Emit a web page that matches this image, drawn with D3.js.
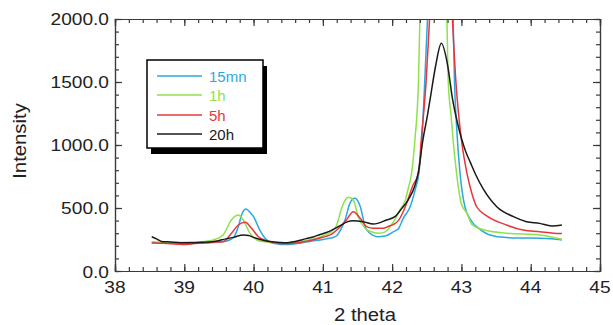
<!DOCTYPE html>
<html>
<head>
<meta charset="utf-8">
<script src="https://cdn.jsdelivr.net/npm/d3@7"></script>
<style>
  html, body { margin: 0; padding: 0; background: #fff; }
  svg { display: block; }
  text { font-family: "Liberation Sans", Arial, Helvetica, sans-serif; }
</style>
</head>
<body>
<svg id="chart" width="613" height="325"></svg>
<script>
// ---- data ----
const seriesNames = ["15mn", "1h", "5h", "20h"];
const seriesColors = ["#2ba8e0", "#8ee24c", "#e8363c", "#1a1a1a"];
const xTicks = [38, 39, 40, 41, 42, 43, 44, 45];
const yTicks = [0, 500, 1000, 1500, 2000];

const s15mn = [
  [38.53,225],[38.7,222],[38.9,220],[39.1,222],[39.3,228],[39.5,232],[39.6,236],[39.66,248],
  [39.71,265],[39.78,352],[39.83,450],[39.89,492],[39.95,465],[40.0,431],[40.09,325],[40.17,258],
  [40.25,225],[40.35,214],[40.45,210],[40.55,212],[40.65,220],[40.75,230],[40.85,238],[40.96,246],
  [41.05,255],[41.12,262],[41.2,280],[41.26,330],[41.32,405],[41.39,537],[41.46,577],[41.5,560],
  [41.54,511],[41.61,352],[41.68,299],[41.78,272],[41.9,278],[41.96,292],[42.02,312],[42.09,335],
  [42.16,418],[42.26,510],[42.33,640],[42.39,790],[42.43,1050],[42.47,1500],[42.51,2000],
  [42.56,2700],[42.7,3200],[42.84,2700],[42.88,2000],[42.90,1503],[42.93,1150],[42.98,775],
  [43.05,510],[43.12,418],[43.17,378],[43.22,352],[43.41,286],[43.65,265],[43.9,262],[44.13,260],
  [44.3,255],[44.45,246]
];
const s1h = [
  [38.53,232],[38.7,228],[38.9,226],[39.1,230],[39.3,235],[39.42,246],[39.56,286],[39.68,405],
  [39.78,444],[39.85,405],[39.95,299],[40.05,246],[40.15,232],[40.3,225],[40.45,222],[40.6,228],
  [40.75,240],[40.86,255],[40.96,270],[41.05,290],[41.12,310],[41.2,365],[41.27,497],[41.33,570],
  [41.37,585],[41.44,563],[41.51,431],[41.61,339],[41.7,312],[41.82,299],[41.9,310],[41.97,352],
  [42.05,420],[42.11,484],[42.19,560],[42.23,650],[42.28,775],[42.33,1050],[42.38,1503],[42.40,2000],
  [42.45,2700],[42.6,3500],[42.74,2700],[42.79,2000],[42.81,1503],[42.85,1238],[42.88,1040],
  [42.93,775],[43.0,530],[43.08,458],[43.15,370],[43.33,325],[43.65,300],[44.13,286],[44.3,270],
  [44.45,252]
];
const s5h = [
  [38.53,222],[38.7,220],[38.9,212],[39.0,210],[39.1,215],[39.3,222],[39.45,228],[39.56,233],
  [39.68,299],[39.78,365],[39.88,386],[39.97,339],[40.07,272],[40.19,240],[40.3,225],[40.45,218],
  [40.6,222],[40.75,235],[40.86,248],[40.96,262],[41.05,275],[41.12,290],[41.2,325],[41.34,405],
  [41.44,471],[41.54,418],[41.63,352],[41.73,339],[41.87,339],[41.95,355],[42.02,370],[42.09,400],
  [42.16,470],[42.21,540],[42.3,680],[42.38,775],[42.42,1040],[42.49,1503],[42.54,2000],[42.6,2600],
  [42.72,3000],[42.82,2600],[42.87,2000],[42.92,1503],[42.96,1238],[43.0,1040],[43.08,775],
  [43.15,617],[43.22,510],[43.36,440],[43.65,365],[43.89,325],[44.13,312],[44.33,300],[44.45,298]
];
const s20h = [
  [38.53,272],[38.6,255],[38.67,235],[38.8,230],[38.95,225],[39.1,224],[39.25,228],[39.4,232],
  [39.47,238],[39.6,255],[39.71,267],[39.85,286],[39.93,282],[40.0,267],[40.1,250],[40.19,238],
  [40.3,230],[40.45,225],[40.6,235],[40.75,255],[40.86,270],[40.96,290],[41.05,305],[41.15,330],
  [41.25,360],[41.35,390],[41.44,399],[41.58,391],[41.73,373],[41.92,405],[42.04,431],[42.14,497],
  [42.23,563],[42.33,680],[42.38,790],[42.44,1026],[42.51,1238],[42.55,1370],[42.63,1635],
  [42.71,1807],[42.80,1635],[42.87,1370],[42.95,1159],[43.0,1053],[43.06,950],[43.13,860],
  [43.21,760],[43.31,655],[43.51,510],[43.75,431],[43.94,391],[44.13,378],[44.3,357],[44.45,365]
];
const seriesData = [s15mn, s1h, s5h, s20h];

// ---- layout ----
const svg = d3.select("#chart");
const L = 115, R = 600, T = 19, B = 271;
const x = d3.scaleLinear().domain([38, 45]).range([L, R]);
const y = d3.scaleLinear().domain([0, 2000]).range([B, T]);
const SX = 1.16; // horizontal stretch of the original lettering
const axisColor = "#3a3a3a";

// clip
svg.append("defs").append("clipPath").attr("id", "plotclip")
  .append("rect").attr("x", L).attr("y", T).attr("width", R - L).attr("height", B - T);

// series lines
const line = d3.line().x(d => x(d[0])).y(d => y(d[1])).curve(d3.curveMonotoneX);
const plot = svg.append("g").attr("clip-path", "url(#plotclip)");
seriesData.forEach((s, i) => {
  plot.append("path").datum(s).attr("d", line)
    .attr("fill", "none").attr("stroke", seriesColors[i])
    .attr("stroke-width", 1.5).attr("stroke-linejoin", "round");
});

// axes (ticks inward on all sides)
const xMinor = d3.range(38, 45.001, 0.2);
const yMinor = d3.range(0, 2000.1, 100);
const gx = svg.append("g").attr("transform", `translate(0,${B})`)
  .call(d3.axisBottom(x).tickValues(xMinor).tickSize(-4).tickFormat(""));
const gx2 = svg.append("g").attr("transform", `translate(0,${B})`)
  .call(d3.axisBottom(x).tickValues(xTicks).tickSize(-7).tickFormat(""));
const gxt = svg.append("g").attr("transform", `translate(0,${T})`)
  .call(d3.axisTop(x).tickValues(xMinor).tickSize(-4).tickFormat(""));
const gxt2 = svg.append("g").attr("transform", `translate(0,${T})`)
  .call(d3.axisTop(x).tickValues(xTicks).tickSize(-7).tickFormat(""));
const gy = svg.append("g").attr("transform", `translate(${L},0)`)
  .call(d3.axisLeft(y).tickValues(yMinor).tickSize(-4).tickFormat(""));
const gy2 = svg.append("g").attr("transform", `translate(${L},0)`)
  .call(d3.axisLeft(y).tickValues(yTicks).tickSize(-7).tickFormat(""));
const gyr = svg.append("g").attr("transform", `translate(${R},0)`)
  .call(d3.axisRight(y).tickValues(yMinor).tickSize(-4).tickFormat(""));
const gyr2 = svg.append("g").attr("transform", `translate(${R},0)`)
  .call(d3.axisRight(y).tickValues(yTicks).tickSize(-7).tickFormat(""));
[gx, gx2, gxt, gxt2, gy, gy2, gyr, gyr2].forEach(g => {
  g.selectAll("path").attr("stroke", axisColor).attr("stroke-width", 1.2);
  g.selectAll("line").attr("stroke", axisColor).attr("stroke-width", 1.2);
});

function stretchedText(px, py, str, anchor, size, color, rot) {
  return svg.append("text")
    .attr("transform", `translate(${px},${py})${rot ? " rotate(" + rot + ")" : ""} scale(${SX},1)`)
    .attr("text-anchor", anchor).attr("font-size", size).attr("fill", color || "#222")
    .text(str);
}

// tick labels
const yFmt = d3.format(".1f");
yTicks.forEach(v => {
  const py = v === 0 ? y(v) + 7 : y(v) + 6;
  stretchedText(109, py, yFmt(v), "end", 16.5);
});
xTicks.forEach(v => {
  stretchedText(x(v), 293, String(v), "middle", 16.5);
});

// axis titles
stretchedText(365, 321, "2 theta", "middle", 17.5);
svg.append("text")
  .attr("transform", `translate(26,141) rotate(-90) scale(${SX},1)`)
  .attr("text-anchor", "middle").attr("font-size", 17.5).attr("fill", "#222")
  .text("Intensity");

// legend
const lg = svg.append("g");
lg.append("rect").attr("x", 151).attr("y", 66).attr("width", 116).attr("height", 88).attr("fill", "#000");
lg.append("rect").attr("x", 147).attr("y", 60).attr("width", 116).attr("height", 88)
  .attr("fill", "#fff").attr("stroke", "#000").attr("stroke-width", 1.5);
const legY = [76, 95, 115, 134];
seriesNames.forEach((n, i) => {
  lg.append("line").attr("x1", 157).attr("x2", 202).attr("y1", legY[i]).attr("y2", legY[i])
    .attr("stroke", seriesColors[i]).attr("stroke-width", 1.5);
  lg.append("text").attr("x", 209).attr("y", legY[i] + 5.5).attr("font-size", 15)
    .attr("fill", seriesColors[i]).text(n);
});
</script>
</body>
</html>
